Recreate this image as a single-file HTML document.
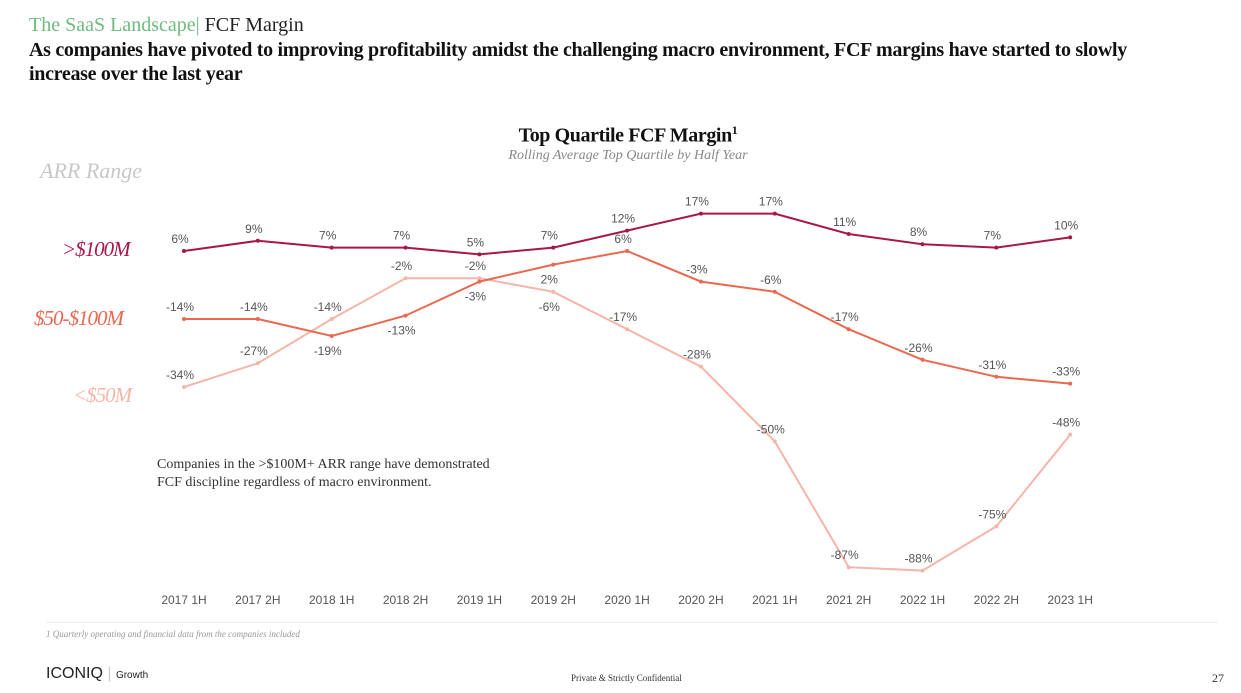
<!DOCTYPE html>
<html><head><meta charset="utf-8"><style>
body{margin:0;width:1241px;height:693px;background:#fff;overflow:hidden;position:relative;font-family:"Liberation Serif",serif}
.a{position:absolute;margin:0}
</style></head><body>
<div class="a" style="left:29px;top:14px;font-size:20px;color:#222"><span style="color:#6dbb7d">The SaaS Landscape|</span> FCF Margin</div>
<div class="a" style="left:29px;top:38px;font-size:20px;font-weight:bold;color:#111;line-height:24px;width:1125px;letter-spacing:-0.3px">As companies have pivoted to improving profitability amidst the challenging macro environment, FCF margins have started to slowly increase over the last year</div>
<div class="a" style="left:0;width:1256px;text-align:center;top:123px;font-size:20px;font-weight:bold;color:#111;letter-spacing:-0.4px">Top Quartile FCF Margin<sup style="font-size:12px">1</sup></div>
<div class="a" style="left:0;width:1256px;text-align:center;top:148px;font-size:14px;font-style:italic;color:#888">Rolling Average Top Quartile by Half Year</div>
<div class="a" style="left:40px;top:158px;font-size:22px;font-style:italic;color:#c8c8c8">ARR Range</div>
<div class="a" style="left:62px;top:237px;font-size:21px;font-style:italic;color:#a8174a;letter-spacing:-1px">&gt;$100M</div>
<div class="a" style="left:34px;top:306px;font-size:21px;font-style:italic;color:#e8694f;letter-spacing:-1px">$50-$100M</div>
<div class="a" style="left:73px;top:383px;font-size:21px;font-style:italic;color:#f5b5a8;letter-spacing:-1px">&lt;$50M</div>
<div class="a" style="left:157px;top:456px;font-size:14px;color:#333;line-height:18px">Companies in the &gt;$100M+ ARR range have demonstrated<br>FCF discipline regardless of macro environment.</div>
<svg class="a" style="left:0;top:0" width="1241" height="693" id="chart"></svg>
<div class="a" style="left:46px;top:622px;width:1172px;height:1px;background:#eee"></div>
<div class="a" style="left:46px;top:629px;font-size:9px;font-style:italic;color:#999">1 Quarterly operating and financial data from the companies included</div>
<div class="a" style="left:46px;top:665px;font-family:'Liberation Sans',sans-serif;font-size:16px;color:#222">ICONIQ <span style="color:#ccc">|</span> <span style="font-size:10px">Growth</span></div>
<div class="a" style="left:571px;top:673px;font-size:9px;color:#333">Private &amp; Strictly Confidential</div>
<div class="a" style="left:1212px;top:671px;font-size:12px;color:#333">27</div>
<script>
const categories=["2017 1H","2017 2H","2018 1H","2018 2H","2019 1H","2019 2H","2020 1H","2020 2H","2021 1H","2021 2H","2022 1H","2022 2H","2023 1H"];
const over100m=[6,9,7,7,5,7,12,17,17,11,8,7,10];
const mid50to100m=[-14,-14,-19,-13,-3,2,6,-3,-6,-17,-26,-31,-33];
const under50m=[-34,-27,-14,-2,-2,-6,-17,-28,-50,-87,-88,-75,-48];
const below100=[0,0,0,0,0,0,0,0,0,0,0,0,0];
const belowMid=[0,0,1,1,1,1,0,0,0,0,0,0,0];
const belowUnder=[0,0,0,0,0,1,0,0,0,0,0,0,0];
const svg=document.getElementById('chart');
const NS='http://www.w3.org/2000/svg';
const x=i=>184+i*73.85;
const y=v=>271.4-v*3.4;
function mk(t,a){const e=document.createElementNS(NS,t);for(const k in a)e.setAttribute(k,a[k]);svg.appendChild(e);return e;}
const series=[[under50m,'#f5b5a8',belowUnder,'series-under-50m'],[mid50to100m,'#e8694f',belowMid,'series-50-100m'],[over100m,'#a8174a',below100,'series-over-100m']];
series.forEach(([d,c,b,n])=>{
 const p=mk('polyline',{points:d.map((v,i)=>x(i)+','+y(v)).join(' '),fill:'none',stroke:c,'stroke-width':2});
 
 
 d.forEach((v,i)=>{
  const pt=mk('circle',{cx:x(i),cy:y(v),r:2,fill:c});
  
  
  const t=mk('text',{x:x(i)-4,y:y(v)+(b[i]?19:-8),'text-anchor':'middle','font-family':'Liberation Sans, sans-serif','font-size':12,fill:'#555'});
  t.textContent=v+'%';
  
  
 });
});
categories.forEach((c,i)=>{
 const t=mk('text',{x:x(i),y:604,'text-anchor':'middle','font-family':'Liberation Sans, sans-serif','font-size':12,fill:'#555'});
 t.textContent=c;
 
 
});
</script>
</body></html>
